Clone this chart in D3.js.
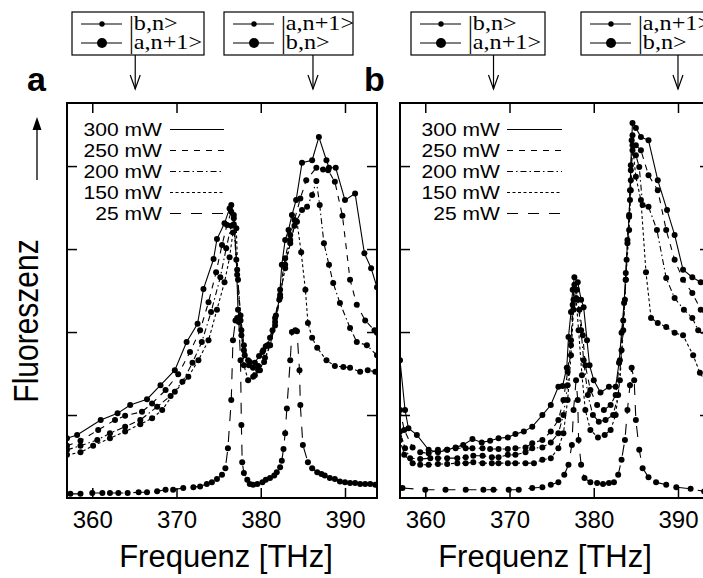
<!DOCTYPE html>
<html>
<head>
<meta charset="utf-8">
<script src="https://cdn.jsdelivr.net/npm/d3@7"></script>
<style>
  body { margin: 0; background: #fff; }
  svg { display: block; }
</style>
</head>
<body>
<svg width="703" height="578"></svg>
<script>
// ---- data: [frequency THz, fluorescence a.u.] ----
var freqTicks = [360, 370, 380, 390];
var levelTicks = [1, 2, 3, 4];
var powers = ["300 mW", "250 mW", "200 mW", "150 mW", "25 mW"];

var a300 = [[357.0,0.72],[358.2,0.76],[361.0,0.94],[363.0,1.02],[364.5,1.12],[366.5,1.19],[368.1,1.36],[369.8,1.54],[371.2,1.88],[372.5,2.10],[373.2,2.52],[374.4,2.88],[374.8,3.12],[375.7,3.31],[376.3,3.49],[376.5,3.53],[376.8,3.41],[377.1,2.87],[377.3,2.27],[377.7,1.96],[378.1,1.72],[378.7,1.64],[379.3,1.63],[379.8,1.71],[380.3,1.78],[380.8,1.84],[381.4,2.02],[381.8,2.20],[382.2,2.39],[382.5,2.81],[382.9,3.11],[383.3,3.23],[383.7,3.41],[384.2,3.59],[384.9,4.04],[386.1,4.07],[386.9,4.35],[387.8,4.07],[388.1,3.98],[388.9,3.98],[390.0,3.59],[391.2,3.67],[392.3,2.95],[393.1,2.77],[393.8,2.54]];
var a250 = [[357.0,0.63],[358.6,0.69],[360.7,0.82],[362.7,0.94],[363.9,0.99],[365.9,1.04],[367.1,1.14],[368.7,1.30],[370.2,1.49],[371.6,1.76],[372.8,2.02],[373.8,2.36],[374.7,2.72],[375.4,3.05],[376.0,3.29],[376.5,3.45],[376.8,3.37],[377.2,2.75],[377.6,2.20],[378.0,1.84],[378.5,1.66],[379.1,1.57],[379.7,1.59],[380.2,1.76],[380.6,1.83],[381.1,1.93],[381.7,2.17],[382.3,2.51],[382.9,2.89],[383.5,3.17],[384.0,3.35],[384.7,3.61],[385.4,3.83],[386.6,3.98],[387.4,3.96],[388.0,3.95],[388.8,3.81],[389.7,3.40],[390.6,2.63],[391.4,2.33],[392.4,2.14],[393.5,2.02],[393.8,1.99]];
var a200 = [[357.0,0.58],[358.6,0.63],[360.6,0.70],[362.1,0.78],[363.9,0.86],[365.7,0.94],[367.7,1.10],[369.3,1.23],[370.7,1.40],[371.9,1.63],[373.0,1.88],[374.1,2.24],[375.2,2.66],[375.9,3.01],[376.5,3.28],[376.8,3.30],[377.2,2.69],[377.6,2.14],[378.0,1.78],[378.6,1.60],[379.3,1.48],[379.9,1.54],[380.5,1.69],[381.1,1.84],[381.7,2.08],[382.3,2.42],[382.9,2.81],[383.5,3.11],[384.2,3.33],[384.9,3.47],[385.5,3.51],[386.1,3.65],[386.6,3.82],[387.0,3.53],[387.5,3.07],[388.1,2.81],[388.6,2.59],[389.4,2.35],[390.6,2.05],[391.4,1.88],[392.6,1.84],[393.8,1.72]];
var a150 = [[357.0,0.52],[358.6,0.55],[360.1,0.63],[362.1,0.72],[363.9,0.80],[365.7,0.89],[367.1,0.96],[368.3,1.06],[369.8,1.28],[371.4,1.46],[372.6,1.66],[373.8,1.90],[374.8,2.27],[375.7,2.60],[376.3,2.90],[376.7,3.20],[377.1,3.25],[377.3,2.63],[377.7,2.02],[378.0,1.60],[378.5,1.42],[379.1,1.46],[379.7,1.54],[380.4,1.64],[381.1,1.84],[381.7,2.12],[382.3,2.45],[382.9,2.77],[383.5,3.07],[384.0,3.28],[384.3,3.33],[384.8,2.96],[385.3,2.51],[385.6,2.11],[386.1,1.93],[386.7,1.81],[387.8,1.66],[388.8,1.59],[389.8,1.58],[390.6,1.57],[391.8,1.52],[392.7,1.54],[393.6,1.52]];
var a25 = [[357.4,0.05],[358.6,0.05],[360.0,0.06],[361.2,0.06],[362.1,0.06],[363.1,0.06],[364.2,0.06],[365.5,0.07],[366.5,0.07],[367.7,0.08],[368.7,0.10],[369.6,0.10],[370.8,0.12],[372.0,0.13],[372.8,0.14],[373.6,0.17],[374.2,0.19],[374.8,0.23],[375.4,0.28],[375.8,0.36],[376.1,0.60],[376.5,1.18],[376.7,1.90],[377.0,2.14],[377.2,2.17],[377.4,2.12],[377.6,1.66],[377.7,0.88],[377.8,0.43],[378.0,0.30],[378.4,0.22],[378.7,0.17],[379.1,0.16],[379.6,0.17],[380.2,0.19],[380.6,0.22],[381.1,0.24],[381.6,0.27],[381.9,0.31],[382.3,0.37],[382.5,0.45],[382.7,0.59],[382.9,0.78],[383.1,1.08],[383.5,1.66],[383.7,2.00],[384.1,2.02],[384.3,2.01],[384.6,1.54],[384.7,1.12],[385.0,0.64],[385.6,0.43],[386.1,0.36],[386.7,0.31],[387.2,0.29],[387.6,0.27],[388.2,0.24],[388.8,0.23],[389.4,0.20],[390.0,0.19],[390.6,0.18],[391.2,0.18],[391.8,0.17],[392.4,0.17],[393.0,0.17],[393.6,0.16]];

var b300 = [[357.0,1.66],[357.6,1.06],[358.0,0.84],[359.0,0.76],[360.4,0.58],[361.5,0.55],[362.6,0.58],[363.6,0.61],[364.5,0.64],[365.6,0.71],[366.7,0.67],[367.7,0.69],[368.7,0.72],[369.8,0.73],[370.7,0.77],[371.7,0.80],[372.7,0.86],[373.9,1.00],[374.9,1.12],[375.8,1.34],[376.3,1.35],[376.8,1.57],[377.0,1.94],[377.3,2.24],[377.5,2.51],[377.7,2.66],[378.1,2.60],[378.5,2.39],[378.8,2.30],[379.2,1.90],[379.5,1.60],[380.0,1.42],[380.8,1.27],[381.8,1.34],[382.6,1.34],[383.0,1.63],[383.3,1.99],[383.6,2.35],[383.8,2.71],[384.0,3.07],[384.2,3.39],[384.3,3.71],[384.4,4.01],[384.5,4.31],[384.6,4.52],[385.0,4.46],[385.6,4.35],[386.5,4.31],[387.6,3.83],[388.7,3.47],[389.6,3.17],[390.6,2.75],[391.7,2.66],[392.7,2.60],[393.9,2.51]];
var b250 = [[357.0,1.06],[357.5,0.82],[358.5,0.61],[359.4,0.55],[360.4,0.54],[361.5,0.58],[362.6,0.58],[363.6,0.60],[364.8,0.60],[365.6,0.60],[366.8,0.60],[367.7,0.59],[368.7,0.59],[369.8,0.59],[370.7,0.60],[371.9,0.61],[372.7,0.66],[373.9,0.70],[374.9,0.80],[375.8,0.94],[376.4,1.18],[376.9,1.52],[377.3,1.90],[377.5,2.33],[377.7,2.57],[378.0,2.51],[378.3,2.27],[378.7,1.96],[379.0,1.60],[379.6,1.30],[380.4,1.12],[381.2,1.06],[382.0,1.12],[382.6,1.24],[383.1,1.66],[383.5,2.14],[383.8,2.63],[384.0,3.11],[384.3,3.59],[384.4,3.95],[384.6,4.37],[385.0,4.25],[385.6,4.19],[386.5,3.89],[387.6,3.71],[388.6,3.23],[389.6,2.87],[390.6,2.63],[391.7,2.47],[392.7,2.27],[393.9,2.12]];
var b200 = [[357.0,0.80],[357.6,0.60],[358.2,0.48],[359.4,0.47],[360.6,0.48],[361.5,0.48],[362.6,0.48],[363.8,0.48],[364.8,0.49],[365.7,0.51],[366.8,0.51],[367.9,0.49],[368.7,0.49],[369.8,0.52],[370.7,0.52],[371.9,0.55],[372.7,0.60],[373.9,0.61],[374.9,0.67],[375.8,0.78],[376.4,1.00],[376.9,1.36],[377.3,1.84],[377.6,2.39],[377.9,2.51],[378.1,2.39],[378.5,2.02],[378.8,1.66],[379.3,1.24],[379.9,1.00],[380.6,0.92],[381.4,0.94],[382.3,1.00],[382.9,1.24],[383.3,1.78],[383.7,2.39],[383.9,2.87],[384.2,3.41],[384.4,3.83],[384.6,4.19],[385.0,4.13],[385.4,3.99],[385.8,3.53],[386.5,3.51],[387.5,3.23],[388.6,2.65],[389.6,2.41],[390.7,2.27],[391.7,2.17],[392.4,2.02],[393.9,1.90]];
var b150 = [[357.0,0.70],[357.5,0.52],[358.5,0.42],[359.4,0.40],[360.4,0.40],[361.5,0.41],[362.6,0.41],[363.8,0.42],[364.8,0.42],[365.7,0.43],[366.8,0.42],[367.9,0.42],[368.7,0.42],[369.8,0.42],[370.7,0.42],[371.9,0.42],[372.9,0.42],[373.9,0.46],[374.9,0.48],[375.8,0.60],[376.4,0.78],[376.9,1.18],[377.3,1.72],[377.6,2.27],[377.9,2.41],[378.2,2.02],[378.6,1.48],[379.0,1.06],[379.6,0.82],[380.5,0.73],[381.3,0.76],[382.0,0.82],[382.6,1.00],[383.1,1.42],[383.5,2.02],[383.8,2.63],[384.2,3.23],[384.4,3.71],[384.6,4.25],[385.0,3.87],[385.6,3.59],[386.2,2.72],[386.8,2.17],[387.6,2.11],[388.6,2.06],[389.6,1.99],[390.6,1.96],[391.8,1.72],[392.6,1.51],[393.9,1.30]];
var b25 = [[357.3,0.12],[360.0,0.10],[362.4,0.10],[364.8,0.10],[366.9,0.10],[368.1,0.10],[369.9,0.10],[371.1,0.10],[372.7,0.12],[373.9,0.13],[374.9,0.16],[375.8,0.19],[376.5,0.28],[377.0,0.40],[377.4,0.64],[377.6,1.06],[377.9,1.42],[378.1,1.18],[378.2,0.70],[378.5,0.40],[378.9,0.24],[379.6,0.19],[380.4,0.18],[381.1,0.17],[381.8,0.18],[382.4,0.19],[382.9,0.28],[383.3,0.46],[383.7,0.70],[384.0,1.06],[384.3,1.36],[384.5,1.57],[384.8,1.42],[385.0,0.94],[385.4,0.58],[385.8,0.36],[386.5,0.25],[387.4,0.19],[388.6,0.16],[389.8,0.13],[391.5,0.11],[393.1,0.08]];

// transitions marked above each panel
var ketsLeft = ["|b,n>", "|a,n+1>"];
var ketsRight = ["|a,n+1>", "|b,n>"];
var arrowFreqA = [365.1, 386.2];
var arrowFreqB = [368.1, 390.0];

// ---- layout ----
var svg = d3.select("svg");
var plotTop = 103, plotBottom = 498, pw = 310;
var sx = 1.17; // legend glyphs in the figure are horizontally stretched
var dashes = ["none", "6,6", "6,3,1.5,3", "3,2.5", "11,10"];
var sans = "'Liberation Sans', Arial, Helvetica, sans-serif";
var serif = "'Liberation Serif', 'Times New Roman', serif";

var panels = [
  { id: "a", left: 67, series: [a300, a250, a200, a150, a25], legendX: 162, lineX0: 170, lineX1: 224,
    arrows: arrowFreqA, boxes: [72, 224], boxW: [132, 129], titleX: 226, labelX: 27 },
  { id: "b", left: 400, series: [b300, b250, b200, b150, b25], legendX: 500, lineX0: 507, lineX1: 562,
    arrows: arrowFreqB, boxes: [411, 581], boxW: [134, 132], titleX: 545, labelX: 364 }
];

var y = d3.scaleLinear().domain([0, 4.76]).range([plotBottom, plotTop]);

panels.forEach(function(p) {
  var x = d3.scaleLinear().domain([357.0, 393.8]).range([p.left, p.left + pw]);
  var g = svg.append("g");

  g.append("clipPath").attr("id", "clip-" + p.id)
    .append("rect").attr("x", p.left).attr("y", plotTop).attr("width", pw).attr("height", plotBottom - plotTop);

  // axes, ticks inward
  var xb = g.append("g").attr("transform", "translate(0," + plotBottom + ")")
    .call(d3.axisBottom(x).tickValues(freqTicks).tickSizeInner(-10).tickSizeOuter(0).tickPadding(13));
  xb.selectAll("text").attr("font-size", 24).attr("font-family", sans).attr("fill", "#000");
  g.append("g").attr("transform", "translate(0," + plotTop + ")")
    .call(d3.axisTop(x).tickValues(freqTicks).tickSizeInner(-10).tickSizeOuter(0).tickFormat(""));
  g.append("g").attr("transform", "translate(" + p.left + ",0)")
    .call(d3.axisLeft(y).tickValues(levelTicks).tickSizeInner(-10).tickSizeOuter(0).tickFormat(""));
  g.append("g").attr("transform", "translate(" + (p.left + pw) + ",0)")
    .call(d3.axisRight(y).tickValues(levelTicks).tickSizeInner(-10).tickSizeOuter(0).tickFormat(""));
  g.selectAll(".domain").remove();
  g.selectAll(".tick line").attr("stroke", "#000").attr("stroke-width", 1.5);

  g.append("rect").attr("x", p.left).attr("y", plotTop).attr("width", pw).attr("height", plotBottom - plotTop)
    .attr("fill", "none").attr("stroke", "#000").attr("stroke-width", 2);

  // curves
  var plot = g.append("g").attr("clip-path", "url(#clip-" + p.id + ")");
  var line = d3.line().x(function(d) { return x(d[0]); }).y(function(d) { return y(d[1]); });
  p.series.forEach(function(s, i) {
    plot.append("path").datum(s).attr("d", line).attr("fill", "none")
      .attr("stroke", "#000").attr("stroke-width", 1.1).attr("stroke-dasharray", dashes[i]);
    plot.selectAll(null).data(s).enter().append("circle")
      .attr("cx", function(d) { return x(d[0]); })
      .attr("cy", function(d) { return y(d[1]); })
      .attr("r", 3).attr("fill", "#000");
  });

  // power legend
  powers.forEach(function(t, i) {
    var by = 136 + i * 21;
    g.append("text").attr("transform", "translate(" + p.legendX + "," + by + ") scale(" + sx + ",1)")
      .attr("text-anchor", "end").attr("font-size", 18).attr("font-family", sans).text(t);
    g.append("line").attr("x1", p.lineX0).attr("x2", p.lineX1).attr("y1", by - 6.5).attr("y2", by - 6.5)
      .attr("stroke", "#000").attr("stroke-width", 1.1).attr("stroke-dasharray", dashes[i]);
  });

  // transition boxes and arrows
  [ketsLeft, ketsRight].forEach(function(kets, k) {
    var bx = p.boxes[k], ax = x(p.arrows[k]);
    g.append("rect").attr("x", bx).attr("y", 12).attr("width", p.boxW[k]).attr("height", 43)
      .attr("fill", "#fff").attr("stroke", "#000").attr("stroke-width", 1.2);
    kets.forEach(function(t, j) {
      var ly = 24 + j * 19;
      g.append("line").attr("x1", bx + 9).attr("x2", bx + 50).attr("y1", ly).attr("y2", ly)
        .attr("stroke", "#000").attr("stroke-width", 1.2);
      g.append("circle").attr("cx", bx + 30).attr("cy", ly).attr("r", j === 0 ? 2.7 : 5).attr("fill", "#000");
      g.append("text").attr("transform", "translate(" + (bx + 57) + "," + (30 + j * 19) + ") scale(1.1,1)")
        .attr("font-size", 22).attr("font-family", serif).text(t);
    });
    g.append("line").attr("x1", ax).attr("x2", ax).attr("y1", 55).attr("y2", 89)
      .attr("stroke", "#000").attr("stroke-width", 1.2);
    g.append("path").attr("d", "M" + (ax - 5) + ",75L" + ax + ",89L" + (ax + 5) + ",75")
      .attr("fill", "none").attr("stroke", "#000").attr("stroke-width", 1.2);
  });

  // panel letter and axis title
  g.append("text").attr("x", p.labelX).attr("y", 91)
    .attr("font-size", 34).attr("font-weight", "bold").attr("font-family", sans).text(p.id);
  g.append("text").attr("x", p.titleX).attr("y", 567)
    .attr("text-anchor", "middle").attr("font-size", 31).attr("font-family", sans).text("Frequenz [THz]");
});

// y axis title with upward arrow
svg.append("text").attr("transform", "translate(38,321) scale(" + sx + ",1) rotate(-90)")
  .attr("text-anchor", "middle").attr("font-size", 30).attr("font-family", sans).text("Fluoreszenz");
svg.append("line").attr("x1", 37).attr("x2", 37).attr("y1", 128).attr("y2", 180)
  .attr("stroke", "#000").attr("stroke-width", 1.3);
svg.append("path").attr("d", "M37,117L32.5,130L41.5,130Z").attr("fill", "#000");
</script>
</body>
</html>
